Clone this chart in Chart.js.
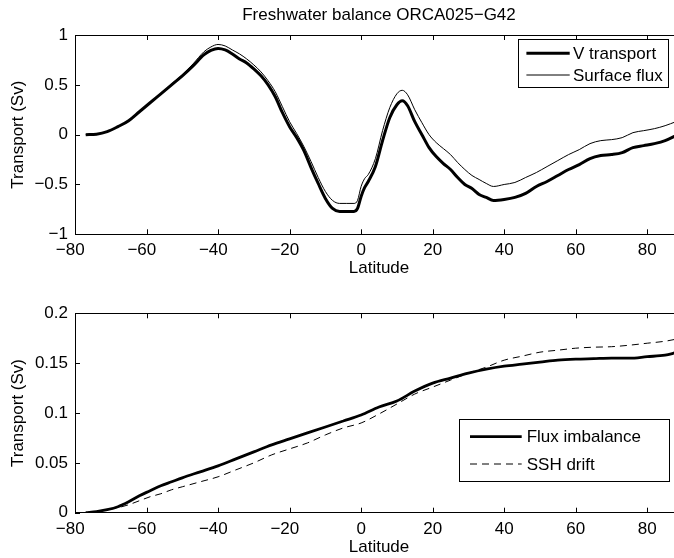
<!DOCTYPE html>
<html>
<head>
<meta charset="utf-8">
<script src="https://cdn.jsdelivr.net/npm/chart.js@4.4.1/dist/chart.umd.min.js"></script>
<style>
  html, body { margin: 0; padding: 0; background: #fff; overflow: hidden; width: 674px; height: 558px; }
  canvas { position: absolute; left: 0; }
  #upper { top: 0; }
  #lower { top: 279px; }
</style>
</head>
<body>
<canvas id="upper" width="700" height="279"></canvas>
<canvas id="lower" width="700" height="279"></canvas>
<script>
// Upper panel: meridional freshwater transport vs latitude
const upperLat = [-77, -74, -71, -68, -65, -62, -59, -56, -53, -50, -47, -44, -42, -40, -38, -36, -34, -32, -30,
  -28, -26, -24, -22, -20, -18, -16, -14, -12, -10, -8, -6, -4, -2, -1, 0, 1, 2, 4, 6, 8, 10, 11.5, 13, 15, 17,
  19, 21, 23, 25, 27, 29, 31, 33, 35, 37, 40, 43, 46, 49, 52, 55, 58, 61, 64, 67, 70, 73, 76, 79, 82, 85, 88];
const vTransport = [0.00, 0.005, 0.03, 0.08, 0.14, 0.23, 0.32, 0.41, 0.50, 0.59, 0.69, 0.80, 0.845, 0.865, 0.85,
  0.81, 0.76, 0.72, 0.66, 0.59, 0.50, 0.38, 0.22, 0.08, -0.03, -0.16, -0.33, -0.49, -0.64, -0.74, -0.77, -0.77,
  -0.77, -0.74, -0.62, -0.53, -0.47, -0.32, -0.06, 0.17, 0.30, 0.34, 0.29, 0.13, 0.00, -0.13, -0.22, -0.29,
  -0.35, -0.43, -0.50, -0.54, -0.60, -0.63, -0.66, -0.65, -0.63, -0.59, -0.52, -0.47, -0.41, -0.35, -0.30,
  -0.24, -0.21, -0.20, -0.18, -0.13, -0.11, -0.09, -0.06, -0.01];
const surfaceFlux = [0.00, 0.005, 0.03, 0.08, 0.14, 0.23, 0.32, 0.41, 0.51, 0.60, 0.71, 0.83, 0.88, 0.905, 0.89,
  0.85, 0.81, 0.76, 0.70, 0.63, 0.54, 0.43, 0.28, 0.13, 0.01, -0.12, -0.27, -0.43, -0.57, -0.66, -0.69, -0.69,
  -0.69, -0.66, -0.52, -0.44, -0.40, -0.24, 0.04, 0.27, 0.41, 0.445, 0.40, 0.25, 0.12, 0.00, -0.08, -0.14,
  -0.20, -0.28, -0.35, -0.41, -0.45, -0.49, -0.52, -0.50, -0.48, -0.43, -0.38, -0.32, -0.26, -0.20, -0.15,
  -0.09, -0.06, -0.05, -0.03, 0.02, 0.04, 0.06, 0.09, 0.13];

// Lower panel: cumulative imbalance vs SSH drift
const lowerLat = [-77, -74, -71, -68, -65, -62, -59, -56, -53, -50, -45, -40, -35, -30, -25, -20, -15, -10, -5,
  0, 5, 10, 15, 20, 25, 30, 35, 40, 45, 50, 55, 60, 65, 70, 75, 80, 85, 88];
const fluxImbalance = [0.000, 0.001, 0.003, 0.006, 0.011, 0.017, 0.022, 0.027, 0.031, 0.035, 0.041, 0.047, 0.054,
  0.061, 0.068, 0.074, 0.080, 0.086, 0.092, 0.098, 0.106, 0.112, 0.122, 0.130, 0.135, 0.140, 0.144, 0.147,
  0.149, 0.151, 0.153, 0.154, 0.1545, 0.155, 0.155, 0.1565, 0.158, 0.1605];
const sshDrift = [0.000, 0.001, 0.003, 0.005, 0.008, 0.012, 0.016, 0.019, 0.023, 0.026, 0.031, 0.036, 0.043,
  0.050, 0.058, 0.064, 0.070, 0.078, 0.085, 0.090, 0.099, 0.109, 0.119, 0.126, 0.133, 0.140, 0.146, 0.153,
  0.157, 0.161, 0.163, 0.165, 0.166, 0.1665, 0.168, 0.170, 0.172, 0.174];

const latTicks = [-80, -60, -40, -20, 0, 20, 40, 60, 80];

Chart.defaults.font.family = '"Liberation Sans", Arial, Helvetica, sans-serif';
Chart.defaults.font.size = 17;
Chart.defaults.color = '#000';

const minus = v => String(v).replace('-', '\u2212');
// keep the digits centred on the tick, the minus sign hangs to the left
const latLabel = v => v < 0 ? minus(v) + '  ' : String(v);
const pts = (xs, ys) => xs.map((x, i) => ({ x: x, y: ys[i] }));

// matlab-style frame: full box with inward tick marks
const frameTicks = {
  id: 'frameTicks',
  afterDatasetsDraw(chart) {
    const { ctx, chartArea: a, scales } = chart;
    const len = 5;
    ctx.save();
    ctx.strokeStyle = '#000';
    ctx.lineWidth = 1;
    ctx.beginPath();
    scales.x.ticks.forEach(t => {
      const px = Math.round(scales.x.getPixelForValue(t.value)) + 0.5;
      ctx.moveTo(px, a.bottom); ctx.lineTo(px, a.bottom - len);
      ctx.moveTo(px, a.top); ctx.lineTo(px, a.top + len);
    });
    scales.y.ticks.forEach(t => {
      const py = Math.round(scales.y.getPixelForValue(t.value)) + 0.5;
      ctx.moveTo(a.left, py); ctx.lineTo(a.left + len, py);
      ctx.moveTo(a.right, py); ctx.lineTo(a.right - len, py);
    });
    ctx.stroke();
    ctx.strokeRect(Math.round(a.left) + 0.5, Math.round(a.top) + 0.5,
      Math.round(a.right - a.left), Math.round(a.bottom - a.top));
    ctx.restore();
  }
};

// boxed legend inside the axes
const boxLegend = {
  id: 'boxLegend',
  afterDatasetsDraw(chart, args, o) {
    const { ctx, chartArea: a } = chart;
    const x0 = a.right - o.right - o.width;
    const y0 = a.top + o.top;
    ctx.save();
    ctx.fillStyle = '#fff';
    ctx.fillRect(x0, y0, o.width, o.height);
    ctx.strokeStyle = '#000';
    ctx.lineWidth = 1;
    ctx.strokeRect(Math.round(x0) + 0.5, Math.round(y0) + 0.5, Math.round(o.width), Math.round(o.height));
    chart.data.datasets.forEach((ds, i) => {
      const y = y0 + o.firstRow + i * o.rowGap;
      ctx.beginPath();
      ctx.setLineDash(ds.borderDash || []);
      ctx.lineWidth = ds.borderWidth;
      ctx.moveTo(x0 + o.lineStart, y);
      ctx.lineTo(x0 + o.lineEnd, y);
      ctx.stroke();
      ctx.setLineDash([]);
      ctx.fillStyle = '#000';
      ctx.font = '17px "Liberation Sans", Arial, sans-serif';
      ctx.textBaseline = 'middle';
      ctx.fillText(ds.label, x0 + o.textStart, y + 1);
    });
    ctx.restore();
  }
};

function lineSet(label, xs, ys, width, dash) {
  return {
    label: label,
    data: pts(xs, ys),
    borderColor: '#000',
    borderWidth: width,
    borderDash: dash || [],
    pointRadius: 0,
    cubicInterpolationMode: 'monotone',
    fill: false
  };
}

function panel(id, datasets, yOpts, areaTop, areaBottom, title, legendOpts) {
  const h = 279;
  return new Chart(document.getElementById(id), {
    type: 'line',
    data: { datasets: datasets },
    plugins: [frameTicks, boxLegend],
    options: {
      responsive: false,
      animation: false,
      devicePixelRatio: 1,
      layout: { padding: { left: 0, top: title ? 0 : areaTop, right: 17, bottom: 0 } },
      plugins: {
        legend: { display: false },
        tooltip: { enabled: false },
        title: {
          display: !!title,
          text: title,
          fullSize: false,
          font: { size: 17, weight: 'normal' },
          padding: { top: 5, bottom: areaTop - 25.4 }
        },
        boxLegend: legendOpts
      },
      scales: {
        x: {
          type: 'linear',
          min: -80,
          max: 90,
          afterFit: s => { s.height = h - areaBottom; },
          afterBuildTicks: s => { s.ticks = latTicks.map(v => ({ value: v })); },
          grid: { display: false, drawTicks: false },
          border: { display: false },
          ticks: { autoSkip: false, maxRotation: 0, padding: 6, callback: latLabel },
          title: { display: true, text: 'Latitude', padding: { top: 0, bottom: 0.8 } }
        },
        y: Object.assign({
          afterFit: s => { s.width = 75; },
          grid: { display: false, drawTicks: false },
          border: { display: false },
          title: { display: true, text: 'Transport (Sv)', padding: { top: 7.8, bottom: 0 } }
        }, yOpts)
      }
    }
  });
}

document.addEventListener('DOMContentLoaded', () => {
  panel('upper', [
    lineSet('V transport', upperLat, vTransport, 3),
    lineSet('Surface flux', upperLat, surfaceFlux, 1)
  ], {
    min: -1, max: 1,
    ticks: { stepSize: 0.5, padding: 7, autoSkip: false, callback: v => minus(v) }
  }, 35, 234.3, 'Freshwater balance ORCA025\u2212G42', {
    right: 15, top: 4.3, width: 150, height: 48,
    firstRow: 14, rowGap: 21.7, lineStart: 8.4, lineEnd: 51.7, textStart: 55
  });

  panel('lower', [
    lineSet('Flux imbalance', lowerLat, fluxImbalance, 2.8),
    lineSet('SSH drift', lowerLat, sshDrift, 1, [7, 5])
  ], {
    min: 0, max: 0.2,
    ticks: { stepSize: 0.05, padding: 7, autoSkip: false, callback: v => String(Number(v.toFixed(2))) }
  }, 34.3, 233.7, '', {
    right: 13.7, top: 106, width: 210.3, height: 61.7,
    firstRow: 17.4, rowGap: 27.3, lineStart: 11, lineEnd: 62.7, textStart: 67.7
  });
});
</script>
</body>
</html>
